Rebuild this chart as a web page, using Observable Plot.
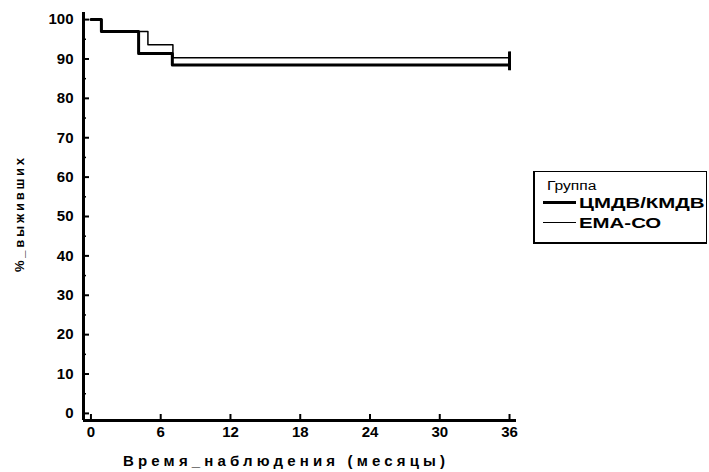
<!DOCTYPE html>
<html><head><meta charset="utf-8">
<script src="https://cdn.jsdelivr.net/npm/d3@7"></script>
<script src="https://cdn.jsdelivr.net/npm/@observablehq/plot@0.6"></script>
<style>
html,body{margin:0;padding:0;background:#fff;}
#wrap{position:relative;width:709px;height:472px;font-family:"Liberation Sans",Arial,sans-serif;}
#legend{position:absolute;left:533px;top:171px;width:174px;height:73px;border-left:2.5px solid #000;border-top:1.5px solid #000;border-bottom:2.5px solid #000;border-right:1.5px solid #000;box-sizing:border-box;}
#legend .t{position:absolute;left:12px;top:7px;font-size:12px;transform:scaleX(1.3);transform-origin:left center;}
#legend .row{position:absolute;left:8px;font-size:15px;font-weight:bold;display:flex;align-items:center;}
#legend .ln{display:inline-block;width:33px;margin-right:3px;background:#000;}
#legend .lab{display:inline-block;transform:scaleX(1.36);transform-origin:left center;}
</style></head>
<body><div id="wrap"></div>
<script>
const groups = ["ЦМДВ/КМДВ", "ЕМА-СО"];
const cmdvTime = [0, 0.9, 4.1, 7.0, 36];
const cmdvSurv = [100, 97, 91.4, 88.5, 88.5];
const emaTime = [0, 0.9, 4.9, 7.05, 36];
const emaSurv = [100, 97, 93.6, 90.3, 90.3];
const xTicks = [0, 6, 12, 18, 24, 30, 36];
const yTicks = [0, 10, 20, 30, 40, 50, 60, 70, 80, 90, 100];
const yMinor = [5, 15, 25, 35, 45, 55, 65, 75, 85, 95];
const xLabel = "Время_наблюдения (месяцы)";
const yLabel = "%_выживших";
const legendTitle = "Группа";

const widths = {"ЦМДВ/КМДВ": 3, "ЕМА-СО": 1.5};
const data = [];
cmdvTime.forEach((t, i) => data.push({group: groups[0], t, s: cmdvSurv[i]}));
emaTime.forEach((t, i) => data.push({group: groups[1], t, s: emaSurv[i]}));
const last = [
  {group: groups[0], t: cmdvTime.at(-1), s: cmdvSurv.at(-1)},
  {group: groups[1], t: emaTime.at(-1), s: emaSurv.at(-1)}
];

const xDom = [-0.64, 36.6], yDom = [-1.8, 101.8];
const font = "Liberation Sans, Arial, sans-serif";

const chart = Plot.plot({
  width: 709, height: 472,
  marginLeft: 83, marginRight: 709 - 516, marginTop: 12, marginBottom: 52,
  style: {fontFamily: font, fontSize: "15px", fontWeight: "bold", color: "#000", background: "#fff"},
  x: {domain: xDom, label: null},
  y: {domain: yDom, label: null},
  marks: [
    Plot.axisY(yTicks, {tickSize: 0, tickPadding: 10, fontSize: 15, fontWeight: "bold"}),
    Plot.axisY(yTicks, {tickSize: -6, text: null, strokeWidth: 2}),
    Plot.axisY(yMinor, {tickSize: -3, text: null, strokeWidth: 1.5}),
    Plot.axisX(xTicks, {tickSize: 0, tickPadding: 6, fontSize: 15, fontWeight: "bold"}),
    Plot.axisX(xTicks, {tickSize: -6, text: null, strokeWidth: 2}),
    Plot.ruleX([xDom[0]], {strokeWidth: 3, stroke: "#000"}),
    Plot.ruleY([yDom[0]], {strokeWidth: 3, stroke: "#000"}),
    Plot.line(data.filter(d => d.group === groups[1]), {x: "t", y: "s", curve: "step-after", stroke: "#000", strokeWidth: widths[groups[1]]}),
    Plot.line(data.filter(d => d.group === groups[0]), {x: "t", y: "s", curve: "step-after", stroke: "#000", strokeWidth: widths[groups[0]]}),
    Plot.ruleX(last, {x: "t", y1: d => d.s - 1.5, y2: d => d.s + 1.5, stroke: "#000", strokeWidth: 3})
  ]
});

const svg = d3.select(chart);
svg.append("text").attr("x", 284).attr("y", 466).attr("text-anchor", "middle")
  .attr("textLength", 322).attr("lengthAdjust", "spacing")
  .style("font-family", font).style("font-size", "15px").style("font-weight", "bold").text(xLabel);
svg.append("text").attr("transform", "translate(24,215) rotate(-90)").attr("text-anchor", "middle")
  .attr("textLength", 114).attr("lengthAdjust", "spacing")
  .style("font-family", font).style("font-size", "13px").style("font-weight", "bold").text(yLabel);

const wrap = document.getElementById("wrap");
wrap.appendChild(chart);
const lg = document.createElement("div");
lg.id = "legend";
lg.innerHTML = `<div class="t">${legendTitle}</div>` + groups.map((g, i) =>
  `<div class="row" style="top:${22 + i * 20}px"><span class="ln" style="height:${widths[g]}px"></span><span class="lab">${g}</span></div>`).join("");
wrap.appendChild(lg);
</script></body></html>
